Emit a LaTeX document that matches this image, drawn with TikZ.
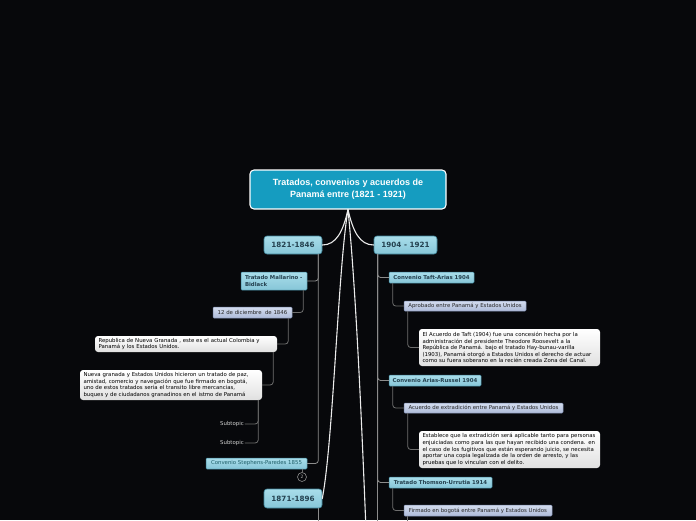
\documentclass[tikz,border=0pt]{standalone}
\usepackage{fontspec}
\setmainfont{DejaVu Sans}
\newfontfamily\titulofont{Liberation Sans}
\definecolor{fondo}{HTML}{07080B}
\definecolor{raizazul}{HTML}{159CC0}
\definecolor{cielo}{HTML}{A9DDEA}
\definecolor{cieloosc}{HTML}{86C6D8}
\definecolor{bordecielo}{HTML}{3F8499}
\definecolor{letra}{HTML}{24414F}
\definecolor{lila}{HTML}{D3DCEE}
\definecolor{lilaosc}{HTML}{AEBBD9}
\definecolor{bordelila}{HTML}{7D8BAD}
\definecolor{gris}{HTML}{8C8C8C}
\definecolor{grisosc}{HTML}{6E6E6E}
\begin{document}
\begin{tikzpicture}[x=1pt, y=-1pt, line join=round, line cap=round,
	raiz/.style={draw=white, line width=1.1pt, rounded corners=4pt, fill=raizazul, text=white, font=\titulofont\bfseries\fontsize{9}{12}\selectfont, align=center, minimum width=196pt, minimum height=39pt, inner sep=0pt},
	periodo/.style={draw=bordecielo, line width=0.6pt, rounded corners=3pt, top color=cielo, bottom color=cieloosc, text=letra, font=\bfseries\fontsize{7.2}{8}\selectfont, minimum height=18pt, inner sep=0pt},
	tratado/.style={draw=bordecielo, line width=0.5pt, rounded corners=1pt, top color=cielo, bottom color=cieloosc, text=letra, font=\bfseries\fontsize{5.4}{6.6}\selectfont, minimum height=11pt, inner sep=0pt},
	fecha/.style={draw=bordelila, line width=0.5pt, rounded corners=1pt, top color=lila, bottom color=lilaosc, text=black!85, font=\fontsize{5.4}{6.6}\selectfont, minimum height=10pt, inner sep=0pt},
	nota/.style={rounded corners=3pt, top color=white, bottom color=black!12, text=black, font=\fontsize{5.4}{6.6}\selectfont, align=left, inner xsep=3.5pt, inner ysep=0pt},
	subtema/.style={text=black!18, font=\fontsize{5.4}{6.6}\selectfont, inner sep=1pt},
	tallo/.style={draw=white!92!black, line width=1.1pt},
	rama/.style={draw=gris, line width=0.8pt, rounded corners=3pt},
	ramita/.style={draw=grisosc, line width=0.8pt, rounded corners=3pt}]
	% fondo y marco
	\fill[fondo] (0,0) rectangle (696,520);
	\useasboundingbox (0,0) rectangle (696,520);
	\clip (0,0) rectangle (696,520);
	\coordinate (fin) at (0,530);
	% tema central
	\node[raiz] (centro) at (348,189.5) {Tratados, convenios y acuerdos de\\Panamá entre (1821 - 1921)};
	\node[periodo, minimum width=58pt] (p1821) at (293,245) {1821-1846};
	\node[periodo, minimum width=63pt] (p1904) at (405.5,245) {1904 - 1921};
	\node[periodo, minimum width=58pt, minimum height=19pt] (p1871) at (293,498.5) {1871-1896};
	\coordinate (sigue) at (366,530);
	\draw[tallo] (centro.south) .. controls +(-5,22) and +(14,0) .. (p1821.east);
	\draw[tallo] (centro.south) .. controls +(5,22) and +(-14,0) .. (p1904.west);
	\draw[tallo] (centro.south) .. controls +(-10,60) and +(11,-58) .. (p1871.east);
	\draw[tallo] (centro.south) .. controls +(8,80) and +(-4,-100) .. (sigue);
	% rama 1821-1846
	\node[tratado, minimum width=66pt, minimum height=18pt, text width=58pt, align=left] (mallarino) at (274,281) {Tratado Mallarino -\\Bidlack};
	\node[fecha, minimum width=79pt, minimum height=11pt] (diciembre) at (252.5,312.5) {12 de diciembre~ de 1846};
	\node[nota, minimum width=182pt, minimum height=16pt, text width=175pt] (republica) at (186,344) {Republica de Nueva Granada , este es el actual Colombia y\\Panamá y los Estados Unidos.};
	\node[nota, minimum width=182pt, minimum height=30pt, text width=175pt] (paz) at (171,385) {Nueva granada y Estados Unidos hicieron un tratado de paz,\\amistad, comercio y navegación que fue firmado en bogotá,\\uno de estos tratados seria el transito libre mercancias,\\buques y de ciudadanos granadinos en el istmo de Panamá};
	\node[subtema] (sub1) at (232,424) {Subtopic};
	\node[subtema] (sub2) at (232,443) {Subtopic};
	\node[tratado, minimum width=101pt, font=\fontsize{5.4}{6.6}\selectfont, text=letra!85!cyan] (stephens) at (256.5,463.5) {Convenio Stephens-Paredes 1855};
	\node[circle, draw=gris, fill=fondo, line width=0.6pt, minimum size=9pt, inner sep=0pt, text=black!30, font=\fontsize{4.5}{5}\selectfont] (contador) at (302,477) {2};
	\draw[rama] ([xshift=-4pt]p1821.south east) |- (mallarino.east);
	\draw[rama] ([xshift=-4pt]p1821.south east) |- (stephens.east);
	\draw[ramita] ([xshift=-4pt]mallarino.south east) |- (diciembre.east);
	\draw[ramita] ([xshift=-4pt]diciembre.south east) |- (republica.east);
	\draw[ramita] ([xshift=-4pt]republica.south east) |- (paz.east);
	\draw[ramita] ([xshift=-4pt]paz.south east) |- (sub1.east);
	\draw[ramita] ([xshift=-4pt]paz.south east) |- (sub2.east);
	\draw[ramita] (contador.north) -- (contador.north |- stephens.south);
	\draw[rama] ([xshift=-4pt]p1871.south east) -- ([xshift=-4pt]p1871.south east |- fin);
	% rama 1904-1921
	\node[tratado, minimum width=85pt] (taft) at (431.5,277.5) {Convenio Taft-Arias 1904};
	\node[fecha, minimum width=122pt] (aprobado) at (465,306) {Aprobado entre Panamá y Estados Unidos};
	\node[nota, minimum width=181pt, minimum height=37pt, text width=174pt] (taftnota) at (509.5,347.5) {El Acuerdo de Taft (1904) fue una concesión hecha por la\\administración del presidente Theodore Roosevelt a la\\República de Panamá. bajo el tratado Hay-bunau-varilla\\(1903), Panamá otorgó a Estados Unidos el derecho de actuar\\como su fuera soberano en la recién creada Zona del Canal.};
	\node[tratado, minimum width=92pt] (russel) at (435,380.5) {Convenio Arias-Russel 1904};
	\node[fecha, minimum width=159pt] (extradicion) at (483.5,408) {Acuerdo de extradición entre Panamá y Estados Unidos};
	\node[nota, minimum width=181pt, minimum height=37pt, text width=174pt] (extranota) at (509.5,449.5) {Establece que la extradición será aplicable tanto para personas\\enjuiciadas como para las que hayan recibido una condena. en\\el caso de los fugitivos que están esperando juicio, se necesita\\aportar una copia legalizada de la orden de arresto, y las\\pruebas que lo vinculan con el delito.};
	\node[tratado, minimum width=103pt] (thomson) at (440.5,482.5) {Tratado Thomson-Urrutia 1914};
	\node[fecha, minimum width=148pt, minimum height=11pt] (firmado) at (478,510.5) {Firmado en bogotá entre Panamá y Estados Unidos};
	\draw[rama] ([xshift=4pt]p1904.south west) |- (taft.west);
	\draw[rama] ([xshift=4pt]p1904.south west) |- (russel.west);
	\draw[rama] ([xshift=4pt]p1904.south west) |- (thomson.west);
	\draw[rama] ([xshift=4pt]p1904.south west) -- ([xshift=4pt]p1904.south west |- fin);
	\draw[ramita] ([xshift=4pt]taft.south west) |- (aprobado.west);
	\draw[ramita] ([xshift=4pt]aprobado.south west) |- (taftnota.west);
	\draw[ramita] ([xshift=4pt]russel.south west) |- (extradicion.west);
	\draw[ramita] ([xshift=4pt]extradicion.south west) |- (extranota.west);
	\draw[ramita] ([xshift=4pt]thomson.south west) |- (firmado.west);
	\draw[ramita] ([xshift=4pt]firmado.south west) -- ([xshift=4pt]firmado.south west |- fin);
\end{tikzpicture}
\end{document}
